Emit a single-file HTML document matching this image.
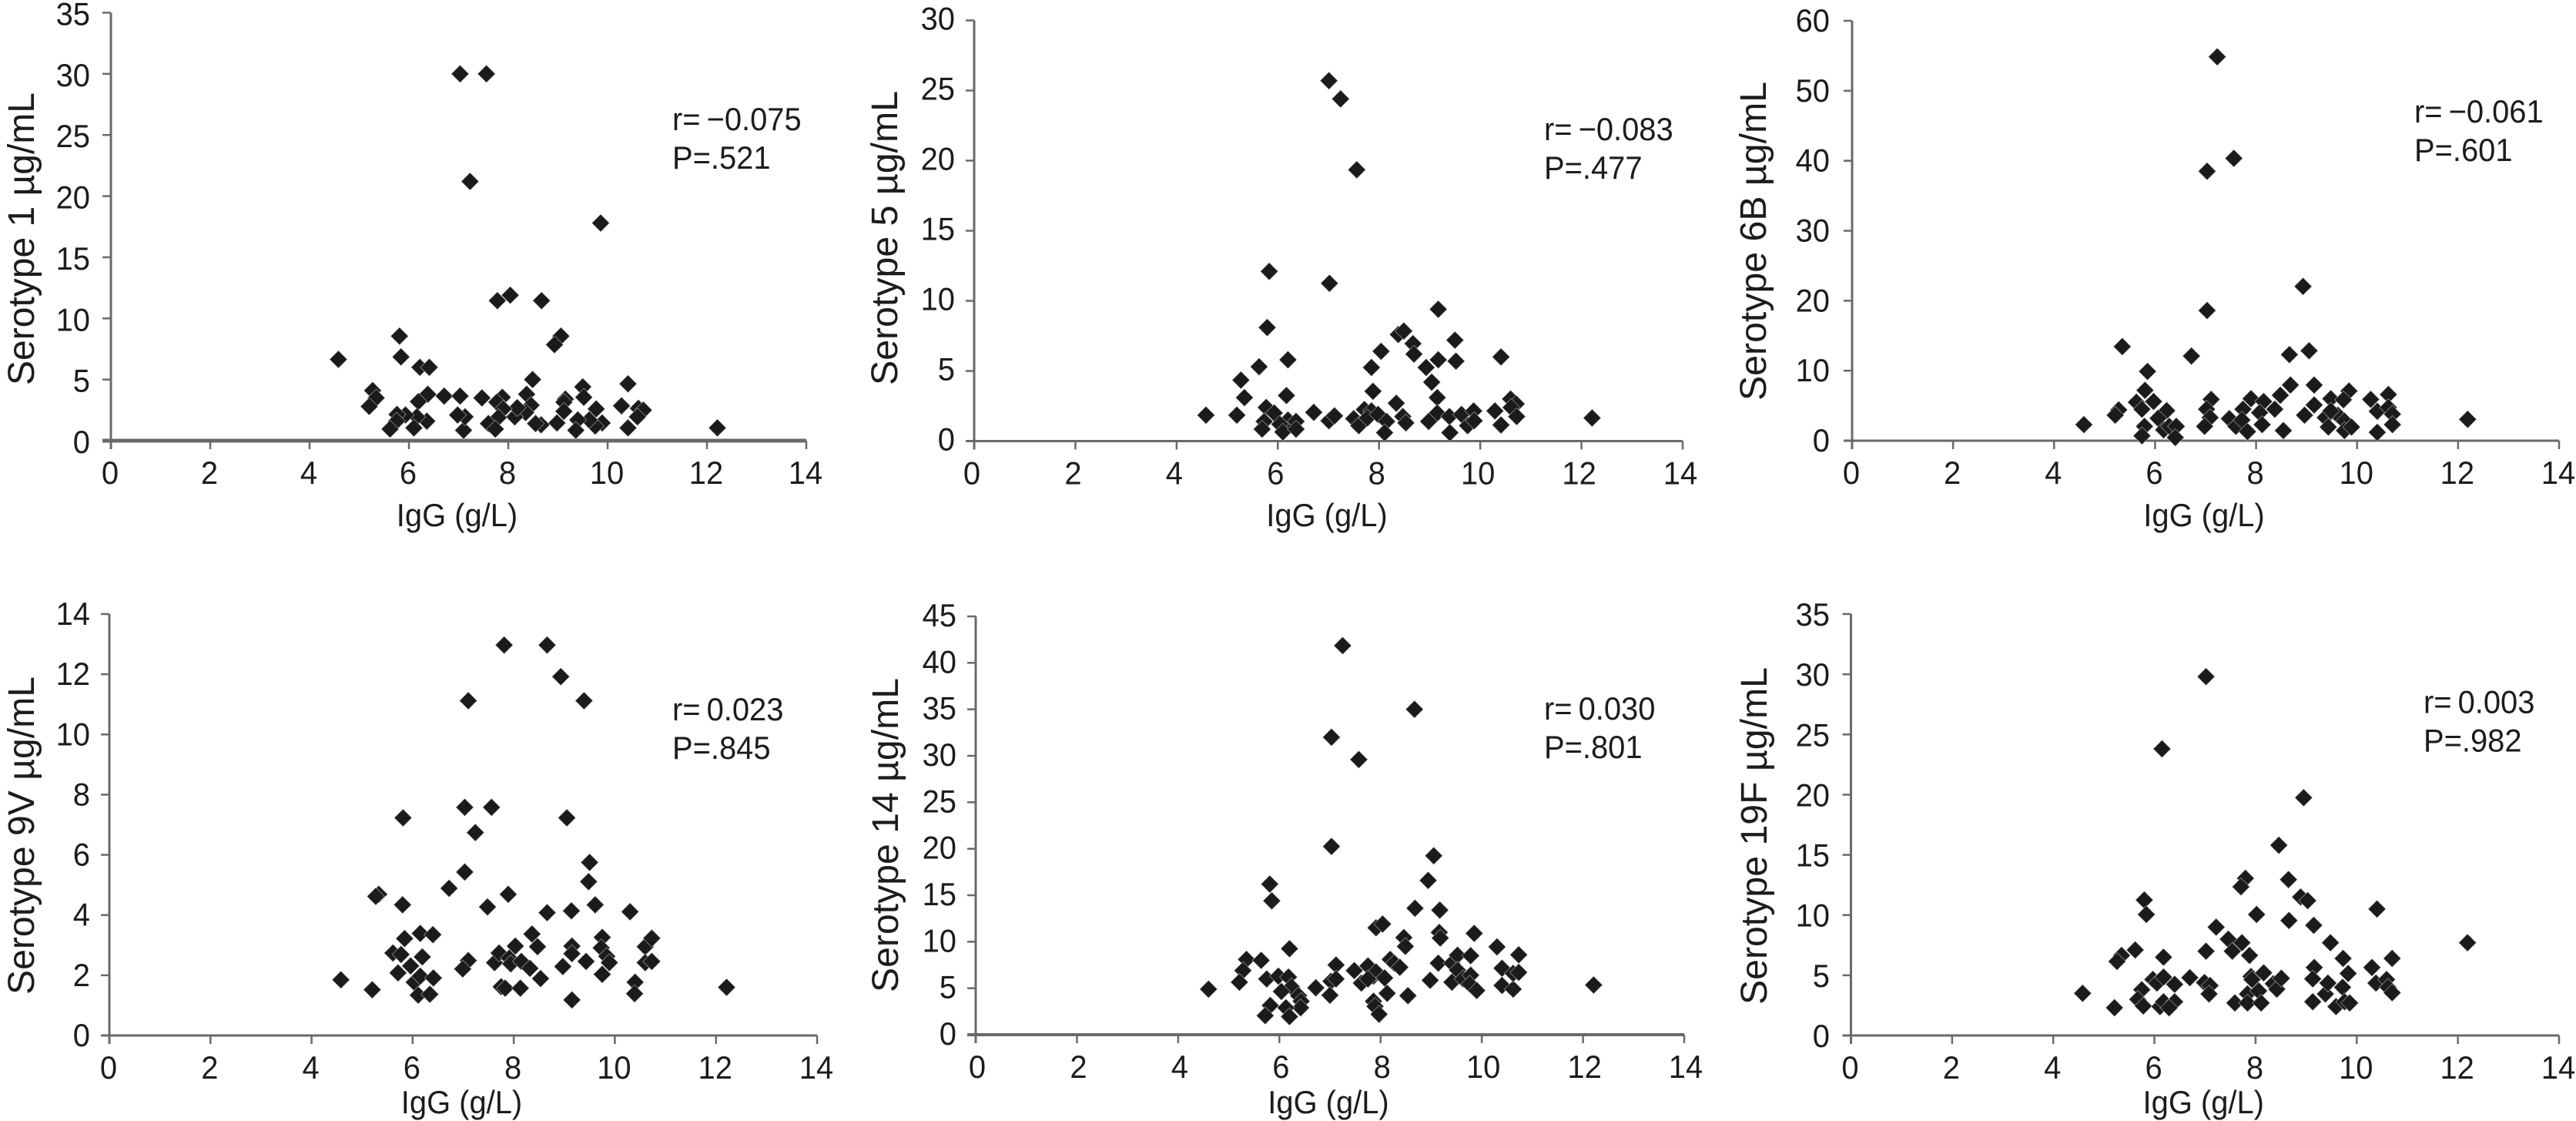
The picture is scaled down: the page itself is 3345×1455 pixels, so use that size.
<!DOCTYPE html>
<html lang="en">
<head>
<meta charset="utf-8">
<title>Serotype antibody concentration versus IgG</title>
<style>
html,body{margin:0;padding:0;background:#fff;width:3345px;height:1455px;overflow:hidden}
svg{display:block}
text{font-family:"Liberation Sans",sans-serif;fill:#1c1c1c;font-size:42px}
</style>
</head>
<body>
<svg id="figure" width="3345" height="1455" viewBox="0 0 3345 1455" xmlns="http://www.w3.org/2000/svg"></svg>
<script>
// ---- shared axis data ----
const xTicks = [0, 2, 4, 6, 8, 10, 12, 14];

// ---- Serotype 1 ----
const s1Ticks = [0, 5, 10, 15, 20, 25, 30, 35];
const s1X = [7.03,7.56,7.23,9.86,7.78,8.04,8.67,9.06,8.93,5.81,5.84,4.58,6.22,6.41,8.49,10.41,9.5,5.27,5.34,5.2,6.38,6.71,7.03,7.47,7.88,7.77,8.37,8.46,9.15,9.12,9.52,6.19,10.28,10.62,10.72,10.6,10.41,12.21,9.77,9.12,9.89,9.75,9.63,9.4,9.36,8.98,8.66,8.55,8.35,8.13,8.18,7.9,7.8,7.6,7.74,7.1,7.13,6.98,6.36,6.16,6.1,5.93,5.76,5.75,5.62];
const s1Y = [30,30,21.2,17.8,11.45,11.9,11.45,8.55,7.85,8.55,6.85,6.65,6,6,5,4.65,4.4,4.1,3.5,2.8,3.8,3.65,3.65,3.5,3.55,3.15,3.8,2.9,3.4,3.15,3.55,3.2,2.85,2.65,2.5,1.95,1.05,1.05,2.6,2.4,1.45,1.2,1.7,1.7,0.85,1.45,1.3,1.4,2.3,1.95,2.7,2.6,1.9,1.4,0.95,0.85,1.95,2.1,1.6,1.95,1.05,2.1,2.15,1.6,0.95];

// ---- Serotype 5 ----
const s5Ticks = [0, 5, 10, 15, 20, 25, 30];
const s5X = [7.01,7.24,7.56,7.02,5.83,5.79,5.63,5.27,5.34,4.58,5.19,6.2,6.17,5.77,5.93,5.73,5.69,6.2,6.04,6.1,6.36,6.36,6.71,7.01,7.12,7.5,7.6,7.71,7.85,7.77,7.98,8.15,8.11,7.88,7.85,8.04,8.34,8.47,8.53,8.38,8.49,8.67,8.69,8.93,9.04,9.17,9.17,9.15,9.15,8.98,9.39,9.4,9.5,9.52,9.63,9.75,9.87,9.88,10.29,10.41,10.41,10.6,10.71,10.61,10.72,12.21];
const s5Y = [25.7,24.4,19.35,11.25,12.1,8.1,5.3,4.35,3.1,1.85,1.85,5.8,3.25,2.4,2,1.4,0.85,1.5,1.2,0.65,1.4,0.85,2.05,1.45,1.8,1.6,1.1,2.25,2.15,1.65,1.9,1.4,0.6,3.55,5.25,6.4,2.7,1.75,1.3,7.6,7.85,6.95,6.2,5.25,4.2,9.4,5.8,3.1,2,1.4,1.75,0.6,7.2,5.7,1.9,1.1,2.15,1.45,2.15,6,1.15,3,2.65,2.4,1.75,1.65];

// ---- Serotype 6B ----
const s6bTicks = [0, 10, 20, 30, 40, 50, 60];
const s6bX = [7.23,7.56,7.03,8.93,7.03,5.35,6.72,8.66,9.05,5.85,5.8,8.68,9.15,9.84,10.62,7.11,7.9,8.48,8.15,9.48,9.73,10.27,5.63,5.97,5.74,5.28,5.21,4.59,7.02,7.09,6.98,7.74,8.37,9.15,8.96,10.4,10.62,10.7,10.7,10.4,12.19,6.23,6.06,5.79,5.74,6.17,6.28,6.42,6.4,7.47,7.6,7.72,7.83,8.07,8.12,8.54,9.37,9.43,9.62,9.75,9.75,9.89,9.48];
const s6bY = [54.85,40.35,38.5,22.05,18.6,13.45,12.1,12.3,12.85,9.9,7.2,7.95,7.95,7.1,6.6,5.9,6,6.5,5.6,6,5.85,5.9,5.5,5.6,4.5,4.4,3.65,2.3,4.5,3.3,2.05,4.5,4.5,5.1,3.65,4.2,4.75,3.8,2.3,1.2,3.05,4.3,3.2,2.05,0.7,1.55,2.05,2.05,0.45,3.15,2.05,2.95,1.3,4,2.3,1.45,3.3,1.95,3.65,2.8,1.45,1.95,4.25];

// ---- Serotype 9V ----
const s9vTicks = [0, 2, 4, 6, 8, 10, 12, 14];
const s9vX = [7.81,8.66,8.93,7.1,9.39,5.81,7.03,7.56,9.05,7.24,9.5,9.48,7.03,6.72,7.89,5.33,5.27,5.8,7.48,9.61,8.66,9.14,10.3,4.58,5.2,5.84,6.15,6.4,5.61,5.77,6.19,5.96,5.71,6.03,6.15,6.41,6.11,6.34,7.1,6.99,7.62,7.71,7.91,7.94,8.03,8.15,7.75,7.83,8.13,8.32,8.36,8.47,8.53,8.97,9.15,9.15,9.15,9.43,9.75,9.73,9.84,9.89,9.75,10.4,10.39,10.6,10.6,10.73,10.73,12.21];
const s9vY = [12.97,12.97,11.92,11.12,11.12,7.23,7.58,7.58,7.23,6.74,5.75,5.11,5.43,4.89,4.69,4.69,4.62,4.34,4.27,4.34,4.08,4.14,4.11,1.85,1.52,3.22,3.39,3.35,2.74,2.69,2.61,2.31,2.08,1.77,1.97,1.91,1.34,1.37,2.49,2.21,2.42,2.74,2.57,2.38,2.97,2.46,1.62,1.57,1.57,2.23,3.37,2.95,1.89,2.29,2.97,2.72,1.18,2.46,3.26,2.91,2.63,2.42,2.03,1.77,1.39,2.95,2.42,2.46,3.23,1.6];

// ---- Serotype 14 ----
const s14Ticks = [0, 5, 10, 15, 20, 25, 30, 35, 40, 45];
const s14X = [7.25,8.67,7.03,7.57,7.03,9.05,5.81,5.85,8.94,8.68,9.17,7.91,8.04,9.16,9.18,9.85,8.46,8.49,6.2,10.3,5.35,5.64,5.28,5.21,4.6,5.75,5.98,6.18,6.24,6.04,6.38,6.43,6.42,5.82,5.72,6.13,6.2,6.72,7.12,7.02,7.12,7,7.48,7.62,7.75,7.86,7.91,7.75,8.08,8.13,8.19,8.27,8.38,7.86,7.89,7.97,8.54,8.98,9.14,9.41,9.52,9.52,9.41,9.63,9.78,9.78,9.76,9.9,10.4,10.4,10.62,10.62,10.73,10.73,12.21];
const s14Y = [41.85,35,32,29.6,20.25,19.25,16.2,14.4,16.6,13.6,13.4,11.5,11.9,11,10.4,10.9,10.45,9.5,9.25,9.45,8.1,8,6.9,5.65,4.9,6,6.3,6.2,5.15,4.65,4.2,3.6,2.9,3.15,2.05,2.9,1.95,5.05,7.5,5.75,6,4.25,6.9,5.55,7.4,6.3,6.75,6,6.1,4.45,8.1,7.7,7.25,3.6,3.05,2.2,4.2,5.85,7.7,7.7,8.55,6.95,5.65,6,8.5,6.4,5.45,4.75,7.15,5.3,4.9,6.6,6.7,8.6,5.35];

// ---- Serotype 19F ----
const s19fTicks = [0, 5, 10, 15, 20, 25, 30, 35];
const s19fX = [7.02,6.15,8.95,8.46,7.8,7.71,8.65,5.8,5.84,8.89,9.03,8.02,8.66,10.4,9.15,7.22,7.46,7.73,7.54,7.02,9.48,12.19,5.62,5.35,5.26,6.18,7.88,9.73,10.7,10.3,9.16,4.58,5.21,5.97,6.05,6.18,6.4,5.75,5.67,5.78,6.11,6.18,6.4,6.29,6.7,6.99,7.1,7.08,7.59,7.91,7.93,7.84,7.84,8.06,8.11,8.16,8.35,8.42,8.51,9.13,9.13,9.38,9.43,9.59,9.72,9.76,9.83,9.86,10.38,10.59,10.62,10.7];
const s19fY = [29.8,23.8,19.75,15.8,13.05,12.35,12.95,11.25,10.05,11.5,11.2,10.05,9.55,10.5,9.15,9,8,7.7,7,7,7.7,7.7,7.1,6.65,6.15,6.5,6.65,6.4,6.4,5.65,5.65,3.5,2.3,4.65,4.35,4.85,4.25,3.8,3,2.45,2.4,2.8,2.8,2.3,4.8,4.4,4.15,3.45,2.7,4.9,4.65,3.45,2.7,3.7,2.7,5.2,4.3,3.85,4.75,4.7,2.8,3.45,4.35,2.4,4,2.8,5.15,2.7,4.35,4.65,4,3.55];

// ---- panel definitions (data links + layout) ----
const panels = [
  {key:'serotype-1',  title:'Serotype 1 \u00B5g/mL',  xs:s1X,  ys:s1Y,  ticks:s1Ticks,  r:'r=\u2009\u22120.075', p:'P=.521',
   left:144, right:1047, bottom:572, top:16.5, tickRight:117, labelDy:16, labelDx:-1, axisW:5, titleX:44, titleTop:120, titleBottom:500, rX:873, rY:169, pY:219, xLabelY:683},
  {key:'serotype-5',  title:'Serotype 5 \u00B5g/mL',  xs:s5X,  ys:s5Y,  ticks:s5Ticks,  r:'r=\u2009\u22120.083', p:'P=.477',
   left:1265, right:2185, bottom:572.5, top:26.5, tickRight:1240, labelDy:12, labelDx:-3, axisW:3, titleX:1165, titleTop:118, titleBottom:500, rX:2005, rY:182, pY:232, xLabelY:683},
  {key:'serotype-6b', title:'Serotype 6B \u00B5g/mL', xs:s6bX, ys:s6bY, ticks:s6bTicks, r:'r=\u2009\u22120.061', p:'P=.601',
   left:2405, right:3323, bottom:572, top:27, tickRight:2376, labelDy:14, labelDx:-1, axisW:3, titleX:2293, titleTop:106, titleBottom:520, rX:3135, rY:159, pY:209, xLabelY:683},
  {key:'serotype-9v', title:'Serotype 9V \u00B5g/mL', xs:s9vX, ys:s9vY, ticks:s9vTicks, r:'r=\u20090.023', p:'P=.845',
   left:142, right:1061, bottom:1344, top:797, tickRight:117, labelDy:14, labelDx:-1, axisW:3, titleX:44, titleTop:878, titleBottom:1291, rX:873, rY:935, pY:985, xLabelY:1445},
  {key:'serotype-14', title:'Serotype 14 \u00B5g/mL', xs:s14X, ys:s14Y, ticks:s14Ticks, r:'r=\u20090.030', p:'P=.801',
   left:1267, right:2187, bottom:1343, top:800, tickRight:1242, labelDy:13, labelDx:2, axisW:4, titleX:1166, titleTop:880, titleBottom:1288, rX:2005, rY:934, pY:984, xLabelY:1445},
  {key:'serotype-19f',title:'Serotype 19F \u00B5g/mL',xs:s19fX,ys:s19fY,ticks:s19fTicks,r:'r=\u20090.003', p:'P=.982',
   left:2403.5, right:3323, bottom:1344, top:797, tickRight:2376, labelDy:15, labelDx:-1, axisW:3, titleX:2294, titleTop:866, titleBottom:1304, rX:3147, rY:925.5, pY:975.5, xLabelY:1445}
];

const NS = 'http://www.w3.org/2000/svg';
const fig = document.getElementById('figure');
const AXIS = '#666a6c';

function make(parent, tag, attrs, content) {
  const el = document.createElementNS(NS, tag);
  for (const k in attrs) el.setAttribute(k, attrs[k]);
  if (content !== undefined) el.textContent = content;
  parent.appendChild(el);
  return el;
}

// Text in the source is slightly condensed: tall digits at a narrower set width.
function label(parent, x, y, anchor, content) {
  return make(parent, 'text', {
    'text-anchor': anchor,
    transform: 'translate(' + x + ',' + y + ') scale(0.95,1)'
  }, content);
}

function xScale(panel, v) {
  const max = xTicks[xTicks.length - 1];
  return panel.left + (v / max) * (panel.right - panel.left);
}
function yScale(panel, v) {
  const max = panel.ticks[panel.ticks.length - 1];
  return panel.bottom - (v / max) * (panel.bottom - panel.top);
}

panels.forEach(function (panel) {
  const g = make(fig, 'g', {});
  
  

  // axes
  const yAxis = make(g, 'line', {x1:panel.left, x2:panel.left, y1:panel.top, y2:panel.bottom + 11, stroke:AXIS, 'stroke-width':3});
  
  

  const xAxis = make(g, 'line', {x1:panel.left - 11, x2:panel.right, y1:panel.bottom, y2:panel.bottom, stroke:AXIS, 'stroke-width':panel.axisW});
  
  

  // y ticks
  panel.ticks.forEach(function (t) {
    const y = yScale(panel, t);
    const tick = make(g, 'line', {x1:panel.left - 11, x2:panel.left, y1:y, y2:y, stroke:AXIS, 'stroke-width':2.5});
    
    
    const tickLabel = label(g, panel.tickRight, y + panel.labelDy, 'end', String(t));
    
    
  });

  // x ticks
  xTicks.forEach(function (t) {
    const x = xScale(panel, t);
    const tick = make(g, 'line', {x1:x, x2:x, y1:panel.bottom, y2:panel.bottom + 11, stroke:AXIS, 'stroke-width':2.5});
    
    
    const tickLabel = label(g, x + panel.labelDx, panel.bottom + 56, 'middle', String(t));
    
    
  });

  // axis titles
  const cx = (panel.left + panel.right) / 2;
  const xTitle = label(g, cx - 2, panel.xLabelY, 'middle', 'IgG (g/L)');
  
  

  const titleMid = (panel.titleTop + panel.titleBottom) / 2;
  const yTitle = make(g, 'text', {
    x:0, y:0, 'text-anchor':'middle',
    style:'font-size:48px',
    textLength:panel.titleBottom - panel.titleTop,
    lengthAdjust:'spacingAndGlyphs',
    transform:'translate(' + panel.titleX + ',' + titleMid + ') rotate(-90)'
  }, panel.title);
  
  

  // points
  panel.xs.forEach(function (xv, i) {
    const px = xScale(panel, xv);
    const py = yScale(panel, panel.ys[i]);
    const d = 'M' + (px - 11.5) + ' ' + py + 'L' + px + ' ' + (py - 11.5) + 'L' + (px + 11.5) + ' ' + py + 'L' + px + ' ' + (py + 11.5) + 'Z';
    const point = make(g, 'path', {d:d, fill:'#1b1b1b', stroke:'#ffffff', 'stroke-opacity':'0.4', 'stroke-width':'1'});
    
    
  });

  // annotations
  const rText = label(g, panel.rX, panel.rY, 'start', panel.r);
  
  

  const pText = label(g, panel.rX, panel.pY, 'start', panel.p);
  
  
});
</script>
</body>
</html>
